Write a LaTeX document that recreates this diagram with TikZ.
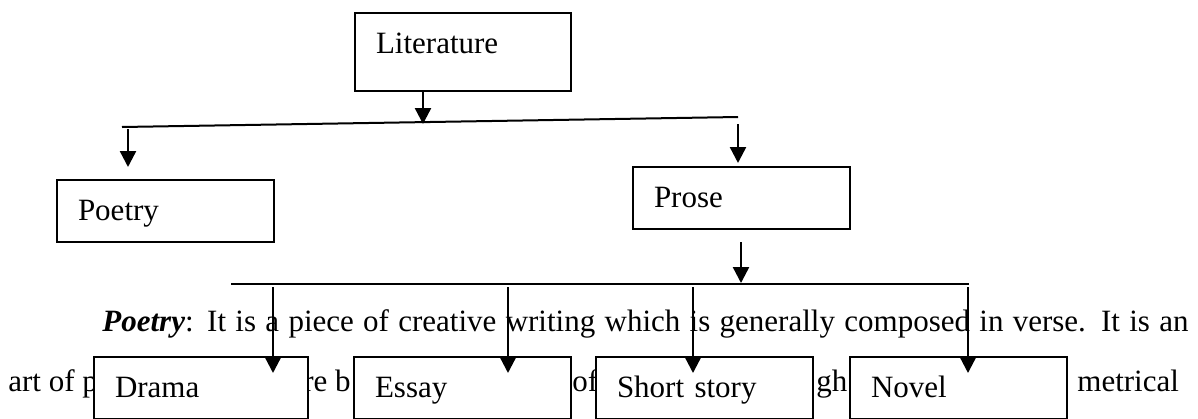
\documentclass[tikz,border=0pt]{standalone}
\usepackage{fontspec}
\setmainfont{Liberation Serif}
\usetikzlibrary{arrows.meta,positioning}

\tikzset{
	tbox/.style={draw, fill=white, line width=1pt, anchor=north west,
		inner xsep=10.5pt, inner ysep=0pt, align=left,
		text height=20pt, text depth=11pt},
	arr/.style={-{Triangle[width=8pt,length=8pt]}, line width=1.2pt},
	bus/.style={line width=1pt},
	body/.style={anchor=base west, inner sep=0pt}
}

\begin{document}
\begin{tikzpicture}[x=0.5pt,y=-0.5pt,font=\fontsize{15.5}{18}\selectfont]
	\clip (0,0) rectangle (1198,418);
	% paragraph behind the chart
	\node[body] (line1) at (102,331) {\hbox to 543pt{\textbf{\textit{Poetry}}: It is a piece of creative writing which is generally composed in verse. It is an}};
	\node[body] (frag1) at (8,391) {art of p};
	\node[body] (frag2) at (303,391) {re b};
	\node[body] (frag3) at (572,391) {of};
	\node[body] (frag4) at (816,391) {gh};
	\node[body] (frag5) at (1077,391) {metrical};
	% boxes
	\node[tbox, text width=87pt, text depth=19pt] (lit) at (354,12) {Literature};
	\node[tbox, text width=87.5pt] (poetry) at (56,179) {Poetry};
	\node[tbox, text width=87.5pt] (prose) at (632,166) {Prose};
	\node[tbox, text width=86pt] (drama) at (93,356) {Drama};
	\node[tbox, text width=87.5pt] (essay) at (353,356) {Essay};
	\node[tbox, text width=87.5pt] (short) at (595,356) {Short story};
	\node[tbox, text width=87.5pt] (novel) at (849,356) {Novel};
	% first level
	\coordinate (b1l) at (122,127);
	\coordinate (b1r) at (738,117);
	\draw[arr] ([xshift=34.5pt]lit.south west) -- ++(0,32);
	\draw[bus] (b1l) -- (b1r);
	\draw[arr] ([xshift=36pt,yshift=25pt]poetry.north west) -- ([xshift=36pt,yshift=6pt]poetry.north west);
	\draw[arr] ([xshift=53pt,yshift=21pt]prose.north west) -- ([xshift=53pt,yshift=1.5pt]prose.north west);
	% second level
	\coordinate (b2l) at (231,284);
	\coordinate (b2r) at (969,284);
	\draw[arr] ([xshift=54.5pt,yshift=-6pt]prose.south west) -- ([xshift=54.5pt,yshift=-26.5pt]prose.south west);
	\draw[bus] (b2l) -- (b2r);
	\draw[arr] ([xshift=90pt,yshift=34.5pt]drama.north west) -- ([xshift=90pt,yshift=-8.5pt]drama.north west);
	\draw[arr] ([xshift=77.5pt,yshift=34.5pt]essay.north west) -- ([xshift=77.5pt,yshift=-8.5pt]essay.north west);
	\draw[arr] ([xshift=49pt,yshift=34.5pt]short.north west) -- ([xshift=49pt,yshift=-8.5pt]short.north west);
	\draw[arr] ([xshift=59.5pt,yshift=34.5pt]novel.north west) -- ([xshift=59.5pt,yshift=-8.5pt]novel.north west);
\end{tikzpicture}
\end{document}
